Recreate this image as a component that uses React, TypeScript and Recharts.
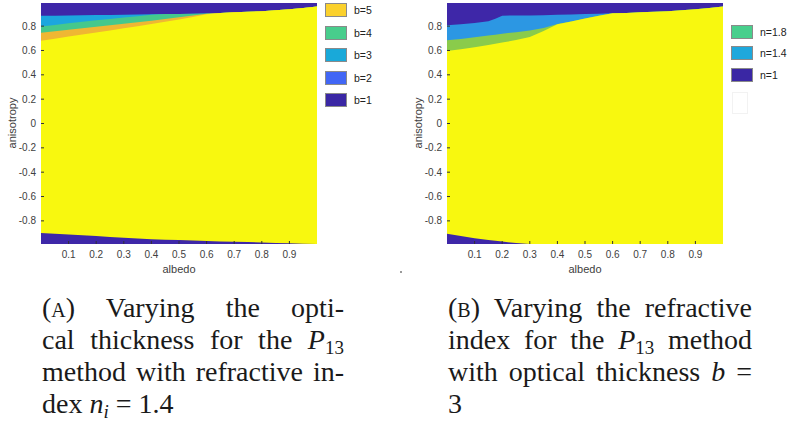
import React from 'react';
import { ComposedChart, Area, XAxis, YAxis, Label } from 'recharts';

const Y_MIN = -0.99;
const Y_MAX = 0.99;
const xTicks = [0.1, 0.2, 0.3, 0.4, 0.5, 0.6, 0.7, 0.8, 0.9];
const yTicks = [-0.8, -0.6, -0.4, -0.2, 0, 0.2, 0.4, 0.6, 0.8];

// Panel A: varying optical thickness b
const albedoA = [0, 0.05, 0.1, 0.15, 0.2, 0.25, 0.3, 0.35, 0.4, 0.45, 0.5, 0.55, 0.6, 0.65, 0.7, 0.75, 0.8, 0.85, 0.9, 0.95, 1];
const b1EdgeA = [0.885, 0.886, 0.888, 0.889, 0.891, 0.892, 0.894, 0.895, 0.897, 0.899, 0.9, 0.901, 0.903, 0.908, 0.913, 0.918, 0.923, 0.93, 0.938, 0.948, 0.962];
const b3EdgeA = [0.797, 0.81, 0.823, 0.836, 0.848, 0.859, 0.87, 0.882, 0.893, 0.899, 0.9, 0.901, 0.903, 0.908, 0.913, 0.918, 0.923, 0.93, 0.938, 0.948, 0.962];
const b4EdgeA = [0.745, 0.757, 0.77, 0.782, 0.795, 0.807, 0.82, 0.832, 0.845, 0.858, 0.872, 0.887, 0.902, 0.908, 0.913, 0.918, 0.923, 0.93, 0.938, 0.948, 0.962];
const b5EdgeA = [0.68, 0.697, 0.715, 0.731, 0.748, 0.765, 0.782, 0.8, 0.818, 0.836, 0.855, 0.875, 0.898, 0.908, 0.913, 0.918, 0.923, 0.93, 0.938, 0.948, 0.962];
const bottomEdgeA = [-0.9, -0.905, -0.912, -0.918, -0.925, -0.932, -0.938, -0.945, -0.95, -0.955, -0.958, -0.962, -0.966, -0.97, -0.972, -0.974, -0.978, -0.981, -0.984, -0.988, -0.99];

// Panel B: varying refractive index n
const albedoB = [0, 0.05, 0.1, 0.15, 0.175, 0.2, 0.25, 0.3, 0.35, 0.4, 0.45, 0.5, 0.55, 0.6, 0.65, 0.7, 0.75, 0.8, 0.85, 0.9, 0.95, 1];
const n1EdgeB = [0.808, 0.815, 0.825, 0.84, 0.86, 0.886, 0.887, 0.888, 0.89, 0.893, 0.896, 0.9, 0.902, 0.905, 0.908, 0.913, 0.918, 0.923, 0.93, 0.938, 0.948, 0.962];
const n14EdgeB = [0.683, 0.695, 0.708, 0.722, 0.73, 0.738, 0.75, 0.765, 0.785, 0.818, 0.838, 0.862, 0.885, 0.905, 0.908, 0.913, 0.918, 0.923, 0.93, 0.938, 0.948, 0.962];
const n18EdgeB = [0.595, 0.61, 0.627, 0.645, 0.655, 0.665, 0.685, 0.71, 0.76, 0.815, 0.838, 0.862, 0.885, 0.905, 0.908, 0.913, 0.918, 0.923, 0.93, 0.938, 0.948, 0.962];
const bottomEdgeB = [-0.905, -0.925, -0.943, -0.958, -0.964, -0.97, -0.982, -0.99, -0.99, -0.99, -0.99, -0.99, -0.99, -0.99, -0.99, -0.99, -0.99, -0.99, -0.99, -0.99, -0.99, -0.99];

const legendLabelsA = ['b=5', 'b=4', 'b=3', 'b=2', 'b=1'];
const legendColorsA = ['#fbd12c', '#48cd8c', '#19a9d9', '#4166f5', '#3a27a4'];
const legendLabelsB = ['n=1.8', 'n=1.4', 'n=1'];
const legendColorsB = ['#48cf8c', '#1ea8dc', '#3a27a4'];

const DARK = '#3e27a8';
const YELLOW = '#f8f80f';

const rowsA = albedoA.map((x, i) => ({
  x,
  top: Y_MAX,
  e1: b1EdgeA[i],
  e2: b3EdgeA[i],
  e3: b4EdgeA[i],
  e4: b5EdgeA[i],
  bottom: bottomEdgeA[i],
}));
const layersA = [
  { key: 'top', color: DARK },
  { key: 'e1', color: '#1ca6de' },
  { key: 'e2', color: '#45c88c' },
  { key: 'e3', color: '#efb733' },
  { key: 'e4', color: YELLOW },
  { key: 'bottom', color: DARK },
];

const rowsB = albedoB.map((x, i) => ({
  x,
  top: Y_MAX,
  e1: n1EdgeB[i],
  e2: n14EdgeB[i],
  e3: n18EdgeB[i],
  bottom: bottomEdgeB[i],
}));
const layersB = [
  { key: 'top', color: DARK },
  { key: 'e1', color: '#2c97e3' },
  { key: 'e2', color: '#8acb4b' },
  { key: 'e3', color: YELLOW },
  { key: 'bottom', color: DARK },
];

const SANS = '"Liberation Sans", Arial, Helvetica, sans-serif';
const tickStyle = { fontSize: 10, fill: '#404040', fontFamily: SANS };

function Panel({ rows, layers }: { rows: any[]; layers: { key: string; color: string }[] }) {
  return (
    <ComposedChart width={330} height={280} data={rows} margin={{ top: 2, right: 3, bottom: 6, left: 3 }}>
      <XAxis
        dataKey="x"
        type="number"
        domain={[0, 1]}
        ticks={xTicks}
        height={30}
        tickSize={-3}
        tickMargin={10}
        axisLine={false}
        tickLine={{ stroke: '#333' }}
        tick={tickStyle}
        allowDataOverflow
      >
        <Label
          content={() => (
            <text x={179} y={269} textAnchor="middle" dominantBaseline="central" fontSize={11} fill="#404040" fontFamily={SANS}>
              albedo
            </text>
          )}
        />
      </XAxis>
      <XAxis xAxisId="t" orientation="top" type="number" dataKey="x" domain={[0, 1]} ticks={xTicks} height={1} tickSize={-3} axisLine={false} tickLine={{ stroke: '#333' }} tick={false} allowDataOverflow />
      <YAxis
        type="number"
        domain={[Y_MIN, Y_MAX]}
        ticks={yTicks}
        width={38}
        tickSize={-3}
        tickMargin={8}
        axisLine={false}
        tickLine={{ stroke: '#333' }}
        tick={tickStyle}
        allowDataOverflow
      >
        <Label
          content={() => (
            <text x={12} y={123} transform="rotate(-90 12 123)" textAnchor="middle" dominantBaseline="central" fontSize={11} fill="#404040" fontFamily={SANS}>
              anisotropy
            </text>
          )}
        />
      </YAxis>
      <YAxis yAxisId="r" orientation="right" type="number" domain={[Y_MIN, Y_MAX]} ticks={yTicks} width={10} tickSize={-3} axisLine={false} tickLine={{ stroke: '#333' }} tick={false} allowDataOverflow />
      {layers.map((l) => (
        <Area
          key={l.key}
          type="linear"
          dataKey={l.key}
          baseValue={Y_MIN}
          fill={l.color}
          fillOpacity={1}
          stroke="none"
          strokeWidth={0}
          dot={false}
          activeDot={false}
          isAnimationActive={false}
        />
      ))}
    </ComposedChart>
  );
}

function LegendBox({ labels, colors, left, top, step, extraEmpty }: any) {
  return (
    <div style={{ position: 'absolute', left, top }}>
      {labels.map((lab: string, i: number) => (
        <div key={lab} style={{ position: 'absolute', left: 0, top: i * step, width: 70, height: 14 }}>
          <div style={{ position: 'absolute', left: 0, top: 0, width: 22, height: 14, background: colors[i], border: '1px solid #8a8a8a', boxSizing: 'border-box' }} />
          <div style={{ position: 'absolute', left: 29, top: 0, fontSize: 10.5, lineHeight: '14px', color: '#222', fontFamily: SANS, whiteSpace: 'nowrap' }}>{lab}</div>
        </div>
      ))}
      {extraEmpty ? (
        <div style={{ position: 'absolute', left: 1, top: labels.length * step + 3, width: 14, height: 20, border: '1px solid #f2f2f2' }} />
      ) : null}
    </div>
  );
}

const SERIF = '"Liberation Serif", "Times New Roman", serif';
const lineStyle: React.CSSProperties = { height: 32, lineHeight: '32px', whiteSpace: 'nowrap' };
const just: React.CSSProperties = { ...lineStyle, textAlign: 'justify', textAlignLast: 'justify' as any };
const sub: React.CSSProperties = { fontSize: '0.68em', verticalAlign: '-0.25em', lineHeight: 0 };

export default function App() {
  return (
    <div style={{ position: 'absolute', left: 0, top: 0, width: 790, height: 421, background: '#fff', overflow: 'hidden' }}>
      <div style={{ position: 'absolute', left: 0, top: 0 }}>
        <Panel rows={rowsA} layers={layersA} />
      </div>
      <div style={{ position: 'absolute', left: 406, top: 0 }}>
        <Panel rows={rowsB} layers={layersB} />
      </div>
      <LegendBox labels={legendLabelsA} colors={legendColorsA} left={325} top={3} step={22.5} />
      <LegendBox labels={legendLabelsB} colors={legendColorsB} left={731} top={25} step={21.3} extraEmpty />
      <div style={{ position: 'absolute', left: 400, top: 271, width: 2, height: 2, background: '#9a9a9a' }} />
      <div style={{ position: 'absolute', left: 42, top: 292, width: 302, fontFamily: SERIF, fontSize: 28, color: '#1a1a1a' }}>
        <div style={just}>
          <span style={{ fontVariant: 'small-caps' }}>(a)</span> Varying the opti-
        </div>
        <div style={just}>
          cal thickness for the <i>P</i>
          <span style={sub}>13</span>
        </div>
        <div style={just}>method with refractive in-</div>
        <div style={lineStyle}>
          dex <i>n</i>
          <span style={{ ...sub, fontStyle: 'italic' }}>i</span> = 1.4
        </div>
      </div>
      <div style={{ position: 'absolute', left: 448, top: 292, width: 304, fontFamily: SERIF, fontSize: 28, color: '#1a1a1a' }}>
        <div style={just}>
          <span style={{ fontVariant: 'small-caps' }}>(b)</span> Varying the refractive
        </div>
        <div style={just}>
          index for the <i>P</i>
          <span style={sub}>13</span> method
        </div>
        <div style={just}>
          with optical thickness <i>b</i> =
        </div>
        <div style={lineStyle}>3</div>
      </div>
    </div>
  );
}
